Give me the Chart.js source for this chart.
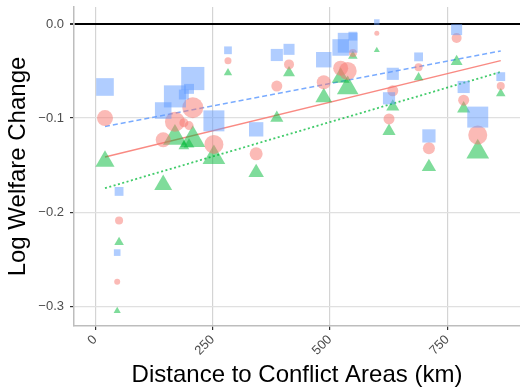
<!DOCTYPE html>
<html>
<head>
<meta charset="utf-8">
<script src="https://cdn.jsdelivr.net/npm/chart.js@4.4.1/dist/chart.umd.min.js"></script>
<style>
    html, body { margin: 0; padding: 0; background: #fff; }
    #welfareWrap { width: 520px; height: 390px; }
</style>
</head>
<body>
<div id="welfareWrap"><canvas id="m_chart_welfare_distance" width="520" height="390"></canvas></div>
<script>
// distance of each market to the nearest conflict area (km)
var distanceKm = [21, 51, 47, 145, 170, 208, 200, 189, 253, 343, 283, 387, 413,
    487, 523, 538, 549, 600, 634, 626, 689, 770, 785, 864, 815, 711];
// market weight (drives marker size)
var marketWeight = [16, 8, 6, 15, 20, 21, 9, 9, 19, 13, 7, 11, 10,
    14, 15, 18, 8, 5, 11, 11, 8, 10, 11, 8, 19, 12];

// log welfare change per scenario
var welfareBlue = [-0.067, -0.178, -0.243, -0.092, -0.077, -0.058, -0.069, -0.075, -0.103, -0.112, -0.028, -0.033, -0.027,
    -0.038, -0.025, -0.020, -0.013, 0.002, -0.053, -0.079, -0.035, -0.006, -0.067, -0.056, -0.099, -0.119];
var welfareRed = [-0.100, -0.209, -0.274, -0.123, -0.104, -0.089, -0.108, -0.105, -0.128, -0.138, -0.039, -0.066, -0.043,
    -0.062, -0.047, -0.050, -0.031, -0.010, -0.071, -0.101, -0.046, -0.015, -0.081, -0.066, -0.118, -0.132];
var welfareGreen = [-0.146, -0.232, -0.305, -0.171, -0.121, -0.123, -0.128, -0.130, -0.142, -0.158, -0.052, -0.100, -0.052,
    -0.078, -0.057, -0.068, -0.034, -0.028, -0.088, -0.114, -0.057, -0.040, -0.090, -0.074, -0.136, -0.152];

// linear fits, start and end of the distance range
var fitKm = [21, 864];
var fitBlue = [-0.109, -0.0287];
var fitRed = [-0.1415, -0.039];
var fitGreen = [-0.1745, -0.051];

var xTicks = [0, 250, 500, 750];
var yTicks = [-0.3, -0.2, -0.1, 0];

var toPoints = function (xs, ys) {
    var pts = [];
    for (var i = 0; i < xs.length; i++) {
        pts.push({ x: xs[i], y: ys[i], w: marketWeight[i] });
    }
    return pts;
};
var toLine = function (ys) {
    return [{ x: fitKm[0], y: ys[0] }, { x: fitKm[1], y: ys[1] }];
};
// scales reserve room for overhanging edge labels; drop that so the plot runs to the edges
var noEdgePadding = function (scale) {
    scale.paddingTop = 0;
    scale.paddingBottom = 0;
    scale.paddingLeft = 0;
    scale.paddingRight = 0;
};

var axisFont = { family: '"Liberation Sans", Arial, sans-serif', size: 13 };
var titleFont = { family: '"Liberation Sans", Arial, sans-serif', size: 24 };

new Chart(document.getElementById('m_chart_welfare_distance'), {
    type: 'scatter',
    data: {
        datasets: [{
            data: toPoints(distanceKm, welfareBlue),
            pointStyle: 'rect',
            backgroundColor: 'rgba(97, 156, 255, 0.5)',
            borderWidth: 0,
            pointRadius: function (c) { return c.raw.w * 0.78; }
        }, {
            data: toPoints(distanceKm, welfareRed),
            pointStyle: 'circle',
            backgroundColor: 'rgba(248, 118, 109, 0.5)',
            borderWidth: 0,
            pointRadius: function (c) { return c.raw.w * 0.5; }
        }, {
            data: toPoints(distanceKm, welfareGreen),
            pointStyle: 'triangle',
            backgroundColor: 'rgba(0, 186, 56, 0.5)',
            borderWidth: 0,
            pointRadius: function (c) { return c.raw.w * 0.69; }
        }, {
            data: toLine(fitBlue),
            showLine: true,
            pointRadius: 0,
            borderColor: 'rgba(97, 156, 255, 0.85)',
            borderWidth: 1.5,
            borderDash: [5, 3]
        }, {
            data: toLine(fitRed),
            showLine: true,
            pointRadius: 0,
            borderColor: 'rgba(248, 118, 109, 0.85)',
            borderWidth: 1.5
        }, {
            data: toLine(fitGreen),
            showLine: true,
            pointRadius: 0,
            borderColor: 'rgba(0, 186, 56, 0.75)',
            borderWidth: 1.8,
            borderDash: [2, 2.5]
        }]
    },
    options: {
        responsive: false,
        animation: false,
        events: [],
        layout: { autoPadding: false, padding: { top: 7, right: 0, left: 0, bottom: 0 } },
        plugins: { legend: { display: false }, tooltip: { enabled: false } },
        scales: {
            x: {
                type: 'linear',
                min: -45,
                max: 905,
                afterBuildTicks: function (scale) {
                    scale.ticks = xTicks.map(function (v) { return { value: v }; });
                },
                afterFit: function (scale) {
                    scale.height = 64;
                    noEdgePadding(scale);
                },
                grid: { color: '#d4d4d4', lineWidth: 1.2, tickColor: '#333', tickLength: 4 },
                border: { display: true, color: '#bdbdbd', width: 1.5 },
                ticks: {
                    minRotation: 45,
                    maxRotation: 45,
                    padding: 2,
                    color: '#4d4d4d',
                    font: axisFont
                },
                title: {
                    display: true,
                    text: 'Distance to Conflict Areas (km)',
                    color: '#000',
                    font: titleFont,
                    padding: { top: 0, bottom: 0 }
                }
            },
            y: {
                type: 'linear',
                min: -0.321,
                max: 0.018,
                afterBuildTicks: function (scale) {
                    scale.ticks = yTicks.map(function (v) { return { value: v }; });
                },
                afterFit: function (scale) {
                    scale.width = 74;
                    noEdgePadding(scale);
                },
                grid: {
                    color: function (c) { return c.tick && c.tick.value === 0 ? '#000' : '#e0e0e0'; },
                    lineWidth: function (c) { return c.tick && c.tick.value === 0 ? 2 : 1.2; },
                    tickColor: '#333',
                    tickLength: 4
                },
                border: { display: true, color: '#bdbdbd', width: 1.5 },
                ticks: {
                    padding: 6,
                    color: '#4d4d4d',
                    font: axisFont,
                    callback: function (v) { return v.toFixed(1).replace('-', '\u2212'); }
                },
                title: {
                    display: true,
                    text: 'Log Welfare Change',
                    color: '#000',
                    font: titleFont,
                    padding: { top: 4, bottom: 0 }
                }
            }
        }
    }
});
</script>
</body>
</html>
